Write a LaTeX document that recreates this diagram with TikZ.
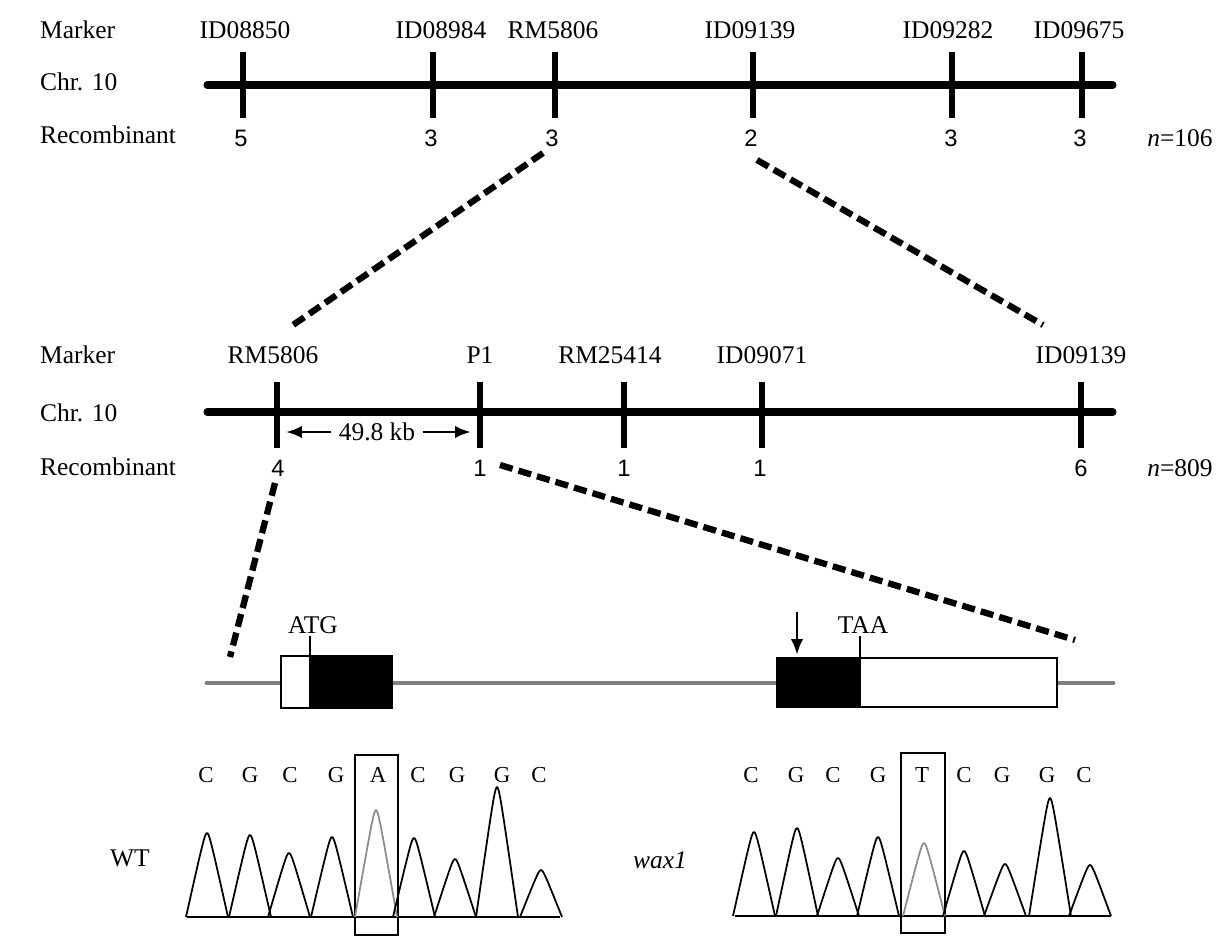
\documentclass[tikz,border=0pt]{standalone}
\usepackage{fontspec}
\setmainfont{Liberation Serif}
\newfontfamily\numfont{Liberation Sans}
\usetikzlibrary{arrows.meta}
\begin{document}
\begin{tikzpicture}[x=0.02cm,y=-0.02cm]
    \tikzstyle{every node}=[inner sep=1pt,font=\fontsize{14.5}{16}\selectfont]
    \tikzstyle{num}=[font=\numfont\fontsize{13.5}{15}\selectfont]
    \tikzstyle{base}=[font=\fontsize{13}{15}\selectfont]
    \tikzstyle{chrom}=[line width=4pt,line cap=round]
    \tikzstyle{tick}=[line width=3.3pt]
    \tikzstyle{zoomline}=[line width=3.6pt,dash pattern=on 7.5pt off 3.5pt]
    \tikzstyle{exon}=[line width=1.1pt]
    \tikzstyle{pointer}=[line width=1.6pt,-{Latex[length=9pt,width=7pt]}]
    \tikzstyle{trace}=[line width=1pt,line join=round]
    \useasboundingbox (0,0) rectangle (1221,950);
    %%%%% top map
    \draw (38,30) node[anchor=west] (mkA) {Marker};
    \draw (38,82) node[anchor=west] (chrA) {Chr. 10};
    \draw (38,135) node[anchor=west] (recA) {Recombinant};
    \draw[chrom] (207,85) -- (1113,85);
    \draw[tick] (243,52) -- (243,118);
    \draw[tick] (433,52) -- (433,118);
    \draw[tick] (555,52) -- (555,118);
    \draw[tick] (753,52) -- (753,118);
    \draw[tick] (952,52) -- (952,118);
    \draw[tick] (1082,52) -- (1082,118);
    \draw (245,30) node (t1) {ID08850};
    \draw (441,30) node (t2) {ID08984};
    \draw (553,30) node (t3) {RM5806};
    \draw (750,30) node (t4) {ID09139};
    \draw (948,30) node (t5) {ID09282};
    \draw (1079,30) node (t6) {ID09675};
    \draw (241,138) node[num] (tn1) {5};
    \draw (431,138) node[num] (tn2) {3};
    \draw (552,138) node[num] (tn3) {3};
    \draw (751,138) node[num] (tn4) {2};
    \draw (951,138) node[num] (tn5) {3};
    \draw (1080,138) node[num] (tn6) {3};
    \draw (1180,138) node (nA) {\textit{n}=106};
    %%%%% zoom lines
    \coordinate (za1) at (543,153);
    \coordinate (za2) at (293,325);
    \coordinate (zb1) at (757,160);
    \coordinate (zb2) at (1043,325);
    \draw[zoomline] (za1) -- (za2);
    \draw[zoomline] (zb1) -- (zb2);
    %%%%% fine map
    \draw (38,355) node[anchor=west] (mkB) {Marker};
    \draw (38,413) node[anchor=west] (chrB) {Chr. 10};
    \draw (38,467) node[anchor=west] (recB) {Recombinant};
    \draw[chrom] (207,412) -- (1113,412);
    \draw[tick] (277,382) -- (277,448);
    \draw[tick] (480,382) -- (480,448);
    \draw[tick] (624,382) -- (624,448);
    \draw[tick] (762,382) -- (762,448);
    \draw[tick] (1081,382) -- (1081,448);
    \draw (273,355) node (m1) {RM5806};
    \draw (480,355) node (m2) {P1};
    \draw (610,355) node (m3) {RM25414};
    \draw (762,355) node (m4) {ID09071};
    \draw (1081,355) node (m5) {ID09139};
    \draw (278,468) node[num] (mn1) {4};
    \draw (480,468) node[num] (mn2) {1};
    \draw (624,468) node[num] (mn3) {1};
    \draw (760,468) node[num] (mn4) {1};
    \draw (1081,468) node[num] (mn5) {6};
    \draw (1180,468) node (nB) {\textit{n}=809};
    \draw (377,432) node (kb) {49.8 kb};
    \coordinate (kbL) at (286,432);
    \coordinate (kbR) at (471,432);
    \draw[pointer,shorten <=3pt] (kb.west) -- (kbL);
    \draw[pointer,shorten <=3pt] (kb.east) -- (kbR);
    %%%%% zoom lines
    \coordinate (zc1) at (275,483);
    \coordinate (zc2) at (230,657);
    \coordinate (zd1) at (500,465);
    \coordinate (zd2) at (1075,640);
    \draw[zoomline] (zc1) -- (zc2);
    \draw[zoomline] (zd1) -- (zd2);
    %%%%% gene model
    \draw[line width=2.8pt,black!50,line cap=round] (207,683) -- (1113,683);
    \draw[exon,fill=white] (281,656) rectangle (310,708);
    \draw[exon,fill=black] (310,656) rectangle (392,708);
    \draw[exon,fill=black] (777,658) rectangle (860,707);
    \draw[exon,fill=white] (860,658) rectangle (1057,707);
    \draw (313,625) node (atg) {ATG};
    \draw (863,625) node (taa) {TAA};
    \draw[line width=1pt] (310,636) -- (310,656);
    \draw[line width=1pt] (860,636) -- (860,658);
    \coordinate (mut1) at (797,612);
    \coordinate (mut2) at (797,655);
    \draw[pointer] (mut1) -- (mut2);
    %%%%% sequencing, WT
    \draw (130,858) node (wt) {WT};
    \draw (206,775) node[base] {C};
    \draw (250,775) node[base] {G};
    \draw (290,775) node[base] {C};
    \draw (336,775) node[base] {G};
    \draw (378,775) node[base] (snpA) {A};
    \draw (418,775) node[base] {C};
    \draw (457,775) node[base] {G};
    \draw (502,775) node[base] {G};
    \draw (539,775) node[base] {C};
    \draw[line width=0.8pt] (355,755) rectangle (398,935);
    \draw[line width=1pt] (187,917) -- (560,917);
    \foreach \c/\h/\col in {207/84/black,250/82/black,289/64/black,332/80/black,376/107/black!45,414/79/black,455/58/black,497/130/black,541/47/black}
      \draw[trace,\col] plot[domain=\c-21:\c+21,samples=41] (\x,{917-\h*(1-(sqrt(((\x-\c)/21)^2+0.0144)-0.12)/0.88717)});
    %%%%% sequencing, wax1
    \draw (660,860) node (mut) {\textit{wax1}};
    \draw (751,775) node[base] {C};
    \draw (796,775) node[base] {G};
    \draw (833,775) node[base] {C};
    \draw (878,775) node[base] {G};
    \draw (922,775) node[base] (snpT) {T};
    \draw (964,775) node[base] {C};
    \draw (1002,775) node[base] {G};
    \draw (1047,775) node[base] {G};
    \draw (1084,775) node[base] {C};
    \draw[line width=0.8pt] (901,753) rectangle (945,933);
    \draw[line width=1pt] (735,916) -- (1111,916);
    \foreach \c/\h/\col in {754/84/black,797/88/black,838/58/black,878/79/black,924/73/black!45,964/65/black,1005/52/black,1050/118/black,1090/51/black}
      \draw[trace,\col] plot[domain=\c-21:\c+21,samples=41] (\x,{916-\h*(1-(sqrt(((\x-\c)/21)^2+0.0144)-0.12)/0.88717)});
\end{tikzpicture}
\end{document}
